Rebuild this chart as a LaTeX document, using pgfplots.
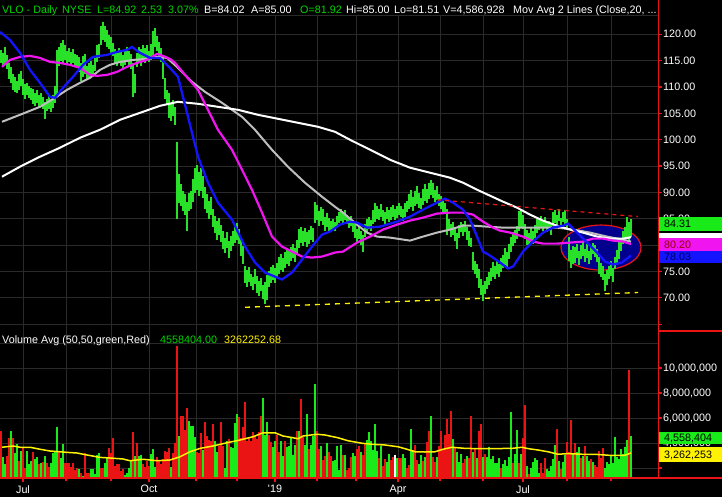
\documentclass[border=0pt]{standalone}
\usepackage{pgfplots}
\usepackage{pgfplotstable}
\pgfplotsset{compat=1.18}
\usepackage{fontspec}
\setmainfont{Liberation Sans}
\definecolor{gridgray}{RGB}{42,42,42}
\definecolor{bargreen}{RGB}{40,225,40}
\definecolor{vgreen}{RGB}{25,235,25}
\definecolor{vred}{RGB}{235,20,20}
\definecolor{hgreen}{RGB}{0,215,0}
\definecolor{mag}{RGB}{240,20,240}
\definecolor{mablue}{RGB}{20,20,255}
\definecolor{magray}{RGB}{190,190,190}
\definecolor{navyc}{RGB}{0,0,140}
\definecolor{boxred}{RGB}{150,0,0}
\definecolor{boxnavy}{RGB}{0,0,90}
\newcommand{\cf}{\fontsize{10.8}{12}\selectfont}

\pgfplotstableread{
x lo hi
1 114.5 117.0
3 113.8 116.5
5 114.2 117.6
7 113.5 116.0
9 111.5 114.5
11 110.8 113.8
13 109.5 112.5
15 109.0 111.8
17 108.8 111.2
19 109.5 112.4
21 110.2 113.0
23 108.5 111.6
25 107.8 110.5
27 108.4 110.8
29 107.9 110.2
31 107.6 109.8
33 106.8 109.6
35 106.3 108.8
37 106.9 109.4
39 106.0 108.5
41 106.5 108.8
43 105.8 108.1
45 104.0 107.2
47 105.4 107.8
49 105.9 108.2
51 105.2 107.6
53 106.0 108.4
55 107.0 110.2
57 108.0 117.0
59 114.0 117.6
61 115.0 118.4
63 114.6 119.0
65 115.2 117.9
67 114.3 116.8
69 114.8 117.4
71 113.9 116.6
73 114.5 117.2
75 114.0 116.3
77 113.6 116.0
79 112.8 115.6
81 111.2 114.6
83 111.8 115.8
85 112.5 116.2
87 111.3 114.0
89 111.6 114.5
91 112.2 115.0
93 111.8 114.2
95 113.0 115.5
97 114.8 118.0
99 115.5 118.2
101 118.0 121.5
103 119.0 122.3
105 118.5 121.6
107 117.5 120.8
109 117.2 119.8
111 116.5 119.5
113 115.8 118.4
115 114.4 117.2
117 113.9 116.6
119 114.6 117.4
121 114.0 116.8
123 113.6 116.0
125 114.2 117.0
127 114.8 117.6
129 114.1 116.9
131 113.5 116.2
133 108.0 114.5
135 108.8 112.5
137 113.8 116.5
139 114.5 117.6
141 114.0 117.2
143 115.0 118.0
145 114.6 117.4
147 115.3 117.9
149 114.7 116.8
151 115.2 118.2
153 116.0 120.6
155 117.6 121.2
157 116.8 119.6
159 115.5 118.5
161 114.8 117.3
163 111.5 115.8
165 107.8 111.7
167 106.5 109.5
169 104.2 108.8
171 103.5 107.0
173 104.4 107.6
175 102.8 106.2
177 85.0 99.5
179 88.0 93.5
181 87.5 91.5
183 86.4 90.3
185 85.8 89.6
187 82.6 88.2
189 86.5 89.8
191 86.9 90.2
193 88.2 92.5
195 89.8 94.6
197 90.5 95.2
199 89.4 93.8
201 90.2 94.6
203 89.0 93.2
205 86.8 91.0
207 86.0 89.6
209 85.0 88.4
211 85.8 89.2
213 83.5 86.8
215 82.2 85.6
217 81.0 84.5
219 82.0 85.2
221 80.6 83.8
223 79.2 82.6
225 78.5 81.4
227 79.5 82.5
229 77.6 80.8
231 78.8 81.8
233 79.8 82.6
235 80.4 83.5
237 81.0 84.2
239 80.2 83.0
241 78.0 81.5
243 76.5 79.8
245 72.8 76.0
247 72.0 75.2
249 73.0 75.8
251 72.2 74.6
253 71.5 74.0
255 72.6 75.4
257 71.0 74.2
259 70.4 73.2
261 71.2 73.8
263 69.8 72.5
265 68.8 73.0
267 69.5 74.4
269 72.0 75.0
271 72.8 75.8
273 73.4 76.2
275 72.9 75.6
277 73.8 76.6
279 74.5 77.8
281 75.2 78.4
283 74.8 77.6
285 75.6 78.6
287 76.4 79.2
289 76.0 78.8
291 76.9 79.6
293 77.5 80.2
295 76.8 79.4
297 78.2 81.0
299 79.5 83.0
301 80.4 83.4
303 79.8 82.6
305 80.6 83.2
307 79.6 82.4
309 80.2 82.9
311 81.0 83.6
313 80.5 83.2
315 84.2 88.2
317 84.8 87.6
319 83.6 86.4
321 84.5 87.2
323 83.9 86.8
325 82.6 85.4
327 83.4 86.0
329 82.6 85.2
331 82.4 84.6
333 83.0 85.0
335 82.6 84.4
337 83.5 85.6
339 84.2 86.3
341 84.6 86.8
343 84.0 86.2
345 84.8 86.6
347 84.0 85.8
349 83.2 85.4
351 83.6 85.6
353 82.5 84.8
355 81.4 84.0
357 80.4 83.0
359 81.2 83.6
361 80.0 82.6
363 78.6 82.0
365 81.5 84.0
367 82.4 85.0
369 83.0 85.4
371 82.6 84.8
373 84.0 86.6
375 84.4 88.0
377 85.0 87.4
379 84.8 86.8
381 85.3 87.7
383 84.6 86.6
385 84.0 86.2
387 85.0 87.3
389 84.3 86.6
391 84.8 87.2
393 85.4 87.6
395 84.7 86.9
397 85.2 87.5
399 85.8 88.0
401 85.3 87.4
403 84.6 86.8
405 85.4 87.9
407 86.2 88.4
409 86.8 89.6
411 87.2 90.4
413 86.4 89.2
415 87.4 90.2
417 87.8 91.2
419 87.1 89.8
421 86.8 88.9
423 87.6 90.6
425 88.4 91.6
427 88.0 90.6
429 88.8 91.8
431 89.5 92.4
433 89.0 91.8
435 88.2 90.4
437 88.6 91.2
439 87.4 89.6
441 86.8 89.4
443 86.0 88.4
445 86.3 88.0
447 82.0 86.8
449 82.8 85.0
451 81.6 84.0
453 82.0 84.4
455 80.8 83.4
457 79.2 82.2
459 81.4 83.8
461 82.5 84.4
463 81.8 84.0
465 82.4 84.6
467 81.0 83.4
469 79.8 82.6
471 79.6 81.4
473 75.2 78.6
475 74.6 77.0
477 73.8 76.4
479 71.8 75.4
481 70.6 73.6
483 69.3 72.4
485 70.8 73.2
487 71.6 74.0
489 72.4 74.8
491 73.2 75.6
493 74.0 76.8
495 73.6 76.0
497 74.6 77.2
499 74.0 76.4
501 74.8 77.6
503 75.6 78.2
505 76.2 79.4
507 75.8 78.6
509 77.4 80.2
511 78.6 81.6
513 79.8 82.4
515 80.4 82.8
517 81.2 83.6
519 82.6 86.4
521 83.4 86.8
523 83.0 85.8
525 81.2 84.0
527 80.0 82.8
529 79.8 82.2
531 80.6 83.2
533 80.2 82.6
535 81.4 83.8
537 82.2 85.0
539 82.8 84.8
541 83.4 85.6
543 82.6 84.6
545 83.2 85.4
547 82.4 84.2
549 82.8 84.6
551 82.0 84.0
553 83.6 86.2
555 84.2 86.6
557 83.8 85.8
559 84.6 86.8
561 83.2 85.2
563 84.4 86.2
565 83.6 86.6
567 82.8 85.0
569 77.0 81.6
571 75.6 79.0
573 76.4 79.8
575 76.6 79.6
577 77.6 80.2
579 76.2 78.8
581 77.4 80.0
583 78.0 80.6
585 76.8 79.2
587 77.6 80.2
589 76.4 78.8
591 77.2 79.8
593 78.4 80.4
595 77.8 80.0
597 76.8 79.2
599 74.6 77.8
601 74.0 76.6
603 73.4 76.0
605 71.2 74.6
607 72.4 75.2
609 73.6 76.0
611 74.2 77.0
613 73.0 75.6
615 75.4 77.8
617 76.2 79.0
619 77.4 80.6
621 78.8 81.2
623 80.2 82.6
625 81.0 83.4
627 81.6 85.4
629 80.6 84.4
631 81.51 85.0
}\pricebars

\pgfplotstableread{
x v
3 2.9
5 2.3
11 5.0
15 3.2
17 3.9
21 3.4
27 3.4
29 2.3
31 2.56
35 2.7
37 2.9
41 2.4
45 2.96
51 2.4
53 3.2
55 3.3
57 5.3
61 2.8
63 3.9
79 1.9
83 1.36
91 1.9
93 1.9
95 1.5
97 3.04
99 3.2
105 2.4
107 2.9
125 1.44
127 1.6
129 2.0
131 2.6
135 2.96
139 2.96
141 3.04
151 3.1
153 3.5
155 2.06
171 2.1
179 4.56
189 5.76
191 5.36
193 5.36
195 4.5
203 3.44
215 4.2
217 3.3
225 2.0
227 4.2
231 3.66
233 3.6
235 5.6
237 6.3
263 7.6
265 4.64
267 5.7
273 3.7
275 4.2
281 4.2
283 2.96
287 3.66
289 3.76
291 4.5
293 3.04
295 3.84
299 5.0
305 3.84
307 6.3
311 3.84
313 4.56
315 8.72
321 3.76
327 4.0
333 2.6
335 2.64
337 3.76
339 1.84
341 3.84
345 3.04
353 3.2
355 2.96
361 3.3
367 4.24
369 4.9
371 4.2
373 3.44
375 5.5
377 3.4
381 3.76
387 2.5
389 3.1
397 2.8
403 3.12
405 2.8
411 5.1
413 3.44
419 2.3
421 3.04
425 2.9
431 6.16
437 2.85
453 4.3
457 3.3
459 2.5
461 3.1
467 2.96
473 3.3
477 2.8
483 2.9
487 2.9
489 3.66
491 2.7
493 2.96
495 2.4
497 2.4
499 2.8
503 2.3
505 2.64
507 2.16
509 2.9
511 6.5
515 3.1
517 5.04
521 3.1
527 2.16
531 2.0
533 2.5
535 2.8
537 2.64
539 1.6
547 1.9
549 1.8
551 2.16
553 2.7
555 3.84
559 2.6
563 2.5
565 3.04
573 3.2
577 3.3
579 3.66
583 2.96
587 2.96
589 2.6
593 2.5
605 2.0
607 2.5
609 2.3
611 3.04
613 2.4
615 4.5
617 2.9
619 2.7
621 3.54
623 3.1
625 3.7
627 4.24
631 4.59
}\volg

\pgfplotstableread{
x v
1 5.0
7 2.96
9 4.4
13 4.4
19 2.6
23 3.7
25 2.0
33 3.3
39 2.3
43 2.5
47 2.4
49 2.1
59 3.4
65 2.4
67 2.4
69 2.4
71 2.1
73 2.4
75 1.84
77 2.0
81 1.6
85 3.2
87 1.6
89 1.6
101 2.0
103 2.0
109 3.6
111 3.2
113 4.4
115 2.2
117 2.3
119 2.3
121 1.8
123 1.9
133 4.9
137 4.0
143 2.3
145 2.1
147 2.6
149 2.2
157 2.9
159 2.6
161 2.3
163 2.7
165 3.4
167 3.3
169 3.6
173 3.2
175 4.0
177 11.76
181 6.2
183 6.2
185 5.04
187 6.8
197 3.3
199 3.2
201 4.8
205 5.7
207 4.56
209 4.24
211 4.2
213 5.5
219 3.76
221 5.7
223 3.76
229 4.3
239 6.06
241 4.4
243 5.3
245 7.3
247 4.2
249 4.5
251 4.2
253 4.9
255 4.56
257 4.3
259 4.9
261 6.2
269 4.64
271 4.1
277 4.64
279 3.3
285 4.2
297 5.0
301 7.5
303 4.5
309 3.5
317 5.0
319 3.5
323 2.64
325 2.96
329 3.3
331 2.96
343 3.04
347 1.84
349 2.0
351 2.9
357 3.5
359 3.76
363 3.04
365 3.9
379 2.8
383 2.16
385 2.7
391 2.64
393 2.9
399 2.8
401 2.8
407 2.0
409 2.24
415 3.84
417 2.64
423 2.6
427 4.1
429 5.0
433 2.9
435 2.5
439 3.76
441 5.0
443 3.5
445 4.64
447 5.9
449 4.7
451 6.6
455 3.7
463 2.4
465 2.7
469 2.8
471 6.16
475 3.6
479 5.0
481 5.5
485 3.1
501 2.0
513 2.4
519 2.4
523 4.4
525 7.04
529 1.5
541 2.4
543 1.6
545 2.8
557 5.1
561 1.9
567 4.1
569 3.3
571 5.84
575 4.0
581 2.8
585 3.76
591 2.7
595 2.24
597 2.1
599 3.36
601 2.8
603 3.6
629 9.84
}\volr

\begin{document}
\begin{tikzpicture}
\fill[black] (0,0) rectangle (722bp,-497bp);
\draw[gridgray, line width=1bp] (0,-15bp) -- (658bp,-15bp);

% ---------------- price panel ----------------
\begin{axis}[
  at={(0bp,-331bp)}, anchor=south west, scale only axis,
  width=658bp, height=316bp,
  xmin=0, xmax=658, ymin=63.7, ymax=123.65,
  axis line style={draw=none},
  xtick={23,66,111,149,196,237,275,317,356,398,440,483,523,567,611},
  xticklabels={}, xtick style={draw=none},
  xmajorgrids, ymajorgrids,
  grid style={gridgray, line width=1bp},
  ytick={65,70,...,120},
  yticklabels={{},{70.00},{75.00},{80.00},{85.00},{90.00},{95.00},{100.00},{105.00},{110.00},{115.00},{120.00}},
  ytick pos=right, yticklabel pos=right,
  tick align=outside, major tick length=4bp,
  ytick style={vred, line width=1.2bp},
  yticklabel style={font=\cf, text=white, anchor=west, inner sep=0pt, xshift=1bp},
]
\draw[vred, fill=navyc, line width=1.2bp] (axis cs:601,79.53) ellipse [x radius=40bp, y radius=22.5bp];
\addplot[draw=none, mark=none, forget plot,
  error bars/.cd, y dir=plus, y explicit, error mark=none,
  error bar style={draw=bargreen, line width=1.1bp, solid}]
  table[x=x, y=lo, y error expr=\thisrow{hi}-\thisrow{lo}] {\pricebars};
% 100-day (gray)
\addplot[magray, line width=2bp, mark=none] coordinates {
(2,103.39) (20,104.72) (40,106.23) (55,107.94) (67,109.45) (80,110.78) (90,111.72)
(100,113.24) (110,114.19) (120,114.75) (133,115.13) (147,115.32) (157,115.70) (167,115.51)
(178,113.62) (192,110.97) (205,109.07) (222,106.99) (242,104.33) (255,101.87) (272,98.07)
(288,94.85) (305,91.82) (322,89.17) (335,87.27) (343,86.16) (357,83.88) (367,82.37)
(377,81.61) (390,81.42) (410,80.85) (423,81.61) (437,82.37) (450,82.94) (463,83.69)
(473,83.69) (487,83.50) (503,83.31) (523,83.31) (540,83.31) (557,83.31) (573,82.94)
(590,82.37) (607,81.61) (623,81.04) (631,80.66)};
% 200-day (white)
\addplot[white, line width=2bp, mark=none] coordinates {
(2,92.97) (20,94.87) (40,96.76) (60,98.47) (80,100.36) (100,101.88) (120,103.77)
(140,105.09) (160,106.42) (178,107.18) (198,106.80) (218,106.23) (238,105.66) (258,104.71)
(278,103.96) (298,103.20) (318,102.44) (335,101.49) (350,99.98) (370,98.09) (390,96.19)
(410,94.68) (430,93.73) (450,92.78) (463,91.84) (477,90.51) (490,89.37) (503,88.24)
(517,87.10) (530,85.78) (543,84.64) (557,83.69) (570,82.94) (583,82.37) (597,81.61)
(610,81.23) (623,81.23) (631,81.49)};
% 50-day (magenta)
\addplot[mag, line width=2.2bp, mark=none] coordinates {
(2,113.81) (10,115.13) (20,115.70) (30,115.89) (40,115.51) (50,114.75) (60,114.56)
(70,114.19) (80,113.62) (90,112.29) (97,112.10) (107,112.29) (117,112.86) (127,113.81)
(137,114.56) (147,115.13) (157,116.27) (163,115.89) (170,115.32) (175,114.56) (185,112.29)
(198,109.45) (208,105.66) (218,101.86) (232,98.07) (242,94.30) (252,90.47) (262,86.16)
(272,81.61) (282,79.72) (292,78.77) (302,77.82) (312,77.63) (322,77.82) (335,78.58)
(343,78.77) (357,80.47) (370,81.61) (383,82.94) (397,83.88) (410,84.64) (423,85.21)
(437,85.97) (450,86.16) (463,86.16) (473,85.78) (483,84.45) (493,83.31) (500,82.74)
(510,82.37) (523,81.61) (533,80.66) (543,80.28) (557,80.28) (570,80.47) (583,80.66)
(593,81.23) (603,81.23) (613,80.85) (623,80.66) (631,80.20)};
% 20-day (blue)
\addplot[mablue, line width=2.3bp, mark=none] coordinates {
(0,120.44) (10,118.92) (20,116.46) (30,113.24) (40,110.78) (50,108.13) (55,107.94)
(63,109.83) (73,111.91) (83,114.19) (93,115.70) (107,116.08) (117,116.65) (127,117.03)
(132,117.60) (140,116.46) (150,115.51) (160,115.51) (165,114.56) (170,113.62) (178,111.91)
(188,104.33) (198,96.76) (208,91.84) (218,88.05) (232,84.83) (245,79.72) (255,76.69)
(265,74.79) (282,73.47) (292,74.79) (302,77.25) (312,79.72) (322,81.99) (330,82.56)
(340,83.88) (350,84.45) (357,84.26) (367,83.31) (380,83.50) (397,84.45) (410,85.40)
(423,86.72) (437,88.05) (445,88.81) (453,88.05) (463,86.72) (470,84.83) (477,81.61)
(483,78.77) (490,78.01) (500,76.69) (508,75.55) (513,75.92) (523,78.77) (533,80.66)
(543,82.37) (553,83.31) (563,83.69) (568,84.07) (577,82.37) (587,80.47) (597,78.58)
(605,76.88) (613,76.31) (622,76.69) (631,78.03)};
% trend lines
\addplot[vred, line width=1.2bp, dash pattern=on 4bp off 4bp, mark=none] coordinates {(437,88.6) (638,85.4)};
\addplot[yellow, line width=1.3bp, dash pattern=on 5bp off 5bp, mark=none] coordinates {(245,68.2) (638,71.0)};
\end{axis}

% ---------------- volume panel ----------------
\begin{axis}[
  at={(0bp,-478bp)}, anchor=south west, scale only axis,
  width=658bp, height=147bp,
  xmin=0, xmax=658, ymin=1.2, ymax=12.96,
  axis line style={draw=none},
  xtick={23,149,275,398,523},
  xticklabels={Jul,Oct,{\textquotesingle19},Apr,Jul},
  extra x ticks={66,111,196,237,317,356,440,483,567,611},
  extra x tick labels={},
  extra x tick style={grid=major, major tick length=3bp},
  xtick pos=lower, xticklabel pos=lower,
  xmajorgrids, ymajorgrids,
  grid style={gridgray, line width=1bp},
  ytick={2,4,6,8,10},
  yticklabels={{},{4,000,000},{6,000,000},{8,000,000},{10,000,000}},
  extra y ticks={12}, extra y tick labels={},
  extra y tick style={grid=major, major tick length=0pt},
  ytick pos=right, yticklabel pos=right,
  tick align=outside, major tick length=4bp,
  tick style={vred, line width=1.2bp},
  yticklabel style={font=\cf, text=white, anchor=west, inner sep=0pt, xshift=1bp},
  xticklabel style={font=\cf, text=white, inner sep=0pt, yshift=-3bp},
]
\addplot[ycomb, vgreen, line width=1.1bp, mark=none] table[x=x, y=v] {\volg};
\addplot[ycomb, vred, line width=1.1bp, mark=none] table[x=x, y=v] {\volr};
\addplot[ycomb, white, line width=1.1bp, mark=none] coordinates {(395,3.04)};
\addplot[yellow, line width=1.5bp, mark=none] coordinates {
(2,3.66) (13,3.76) (20,3.66) (30,3.66) (40,3.5) (50,3.36) (60,3.3) (67,3.25) (77,3.2)
(87,3.04) (100,2.85) (110,2.8) (123,2.72) (130,2.58) (143,2.7) (157,2.58) (170,2.64)
(180,2.9) (190,3.3) (200,3.57) (213,3.76) (227,4.02) (240,4.24) (253,4.5) (263,4.82)
(275,4.82) (283,4.56) (293,4.42) (298,4.34) (303,4.56) (317,4.7) (325,4.64) (338,4.42)
(348,4.18) (362,3.98) (372,3.9) (385,3.84) (398,3.7) (407,3.5) (415,3.3) (425,3.28)
(435,3.3) (443,3.5) (452,3.66) (465,3.57) (478,3.55) (492,3.55) (512,3.57) (522,3.66)
(528,3.55) (538,3.44) (548,3.3) (558,3.1) (568,3.15) (582,3.1) (598,3.08) (612,3.0)
(625,3.02) (631,3.2)};
\end{axis}

% ---------------- frame lines ----------------
\draw[vred, line width=1.2bp] (658.5bp,0) -- (658.5bp,-478bp);
\draw[vred, line width=1.2bp] (0,-478bp) -- (722bp,-478bp);
\draw[vred, line width=1.2bp] (658.5bp,-331bp) -- (722bp,-331bp);

% ---------------- value boxes ----------------
\fill[vgreen] (659bp,-216.7bp) rectangle (722bp,-230.7bp);
\fill[white] (659bp,-232.5bp) rectangle (722bp,-244bp);
\fill[mag] (659bp,-238bp) rectangle (722bp,-250.5bp);
\fill[mablue] (659bp,-250.5bp) rectangle (722bp,-263bp);
\node[anchor=base west, inner sep=0pt, text=black] at (664bp,-227.6bp) {\cf 84.31};
\node[anchor=base west, inner sep=0pt, text=boxred] at (664bp,-248.4bp) {\cf 80.20};
\node[anchor=base west, inner sep=0pt, text=boxnavy] at (664bp,-260.6bp) {\cf 78.03};
\fill[vgreen] (659bp,-431.7bp) rectangle (722bp,-444bp);
\fill[yellow] (659bp,-447.3bp) rectangle (722bp,-462.3bp);
\node[anchor=base west, inner sep=0pt, text=black] at (664bp,-441.9bp) {\cf 4,558,404};
\node[anchor=base west, inner sep=0pt, text=black] at (664bp,-458.6bp) {\cf 3,262,253};

% ---------------- header texts ----------------
\begin{scope}[every node/.style={anchor=base west, inner sep=0pt, font=\cf}]
\node[text=hgreen] at (2bp,-13.3bp) {VLO - Daily};
\node[text=hgreen] at (62bp,-13.3bp) {NYSE};
\node[text=hgreen] at (97bp,-13.3bp) {L=84.92};
\node[text=hgreen] at (141bp,-13.3bp) {2.53};
\node[text=hgreen] at (168bp,-13.3bp) {3.07\%};
\node[text=white] at (204bp,-13.3bp) {B=84.02};
\node[text=white] at (251bp,-13.3bp) {A=85.00};
\node[text=hgreen] at (300bp,-13.3bp) {O=81.92};
\node[text=white] at (346bp,-13.3bp) {Hi=85.00};
\node[text=white] at (394bp,-13.3bp) {Lo=81.51};
\node[text=white] at (443bp,-13.3bp) {V=4,586,928};
\node[text=white] at (513bp,-13.3bp) {Mov Avg 2 Lines (Close,20, ...};
\node[text=white] at (2bp,-343.5bp) {Volume Avg (50,50,green,Red)};
\node[text=hgreen] at (160bp,-343.5bp) {4558404.00};
\node[text=yellow] at (224bp,-343.5bp) {3262252.68};
\end{scope}

\pgfresetboundingbox
\path[use as bounding box] (0,0) rectangle (722bp,-497bp);
\end{tikzpicture}
\end{document}
